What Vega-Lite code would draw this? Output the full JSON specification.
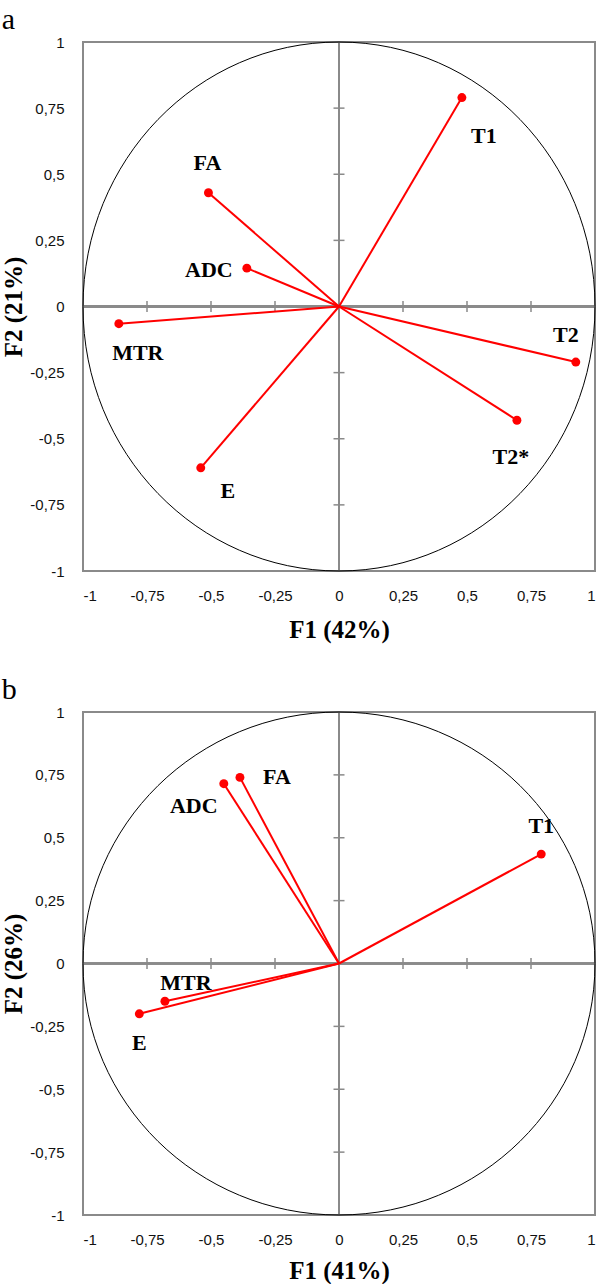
{
  "$schema": "https://vega.github.io/schema/vega-lite/v6.json",
  "padding": {"left": 0, "top": 4, "right": 5, "bottom": 0},
  "background": "white",
  "spacing": 31,
  "config": {
    "view": {"stroke": "#8a8a8a", "strokeWidth": 2},
    "axis": {"grid": false, "domain": false, "ticks": false, "labelFont": "Liberation Sans", "labelFontSize": 15, "labelColor": "#111", "titleFont": "Liberation Serif", "titleFontSize": 25, "titleFontWeight": "bold", "titleColor": "#000"},
    "title": {"font": "Liberation Serif", "fontSize": 30, "fontWeight": "normal", "anchor": "start", "frame": "bounds", "color": "#000"}
  },
  "vconcat": [
    {
      "title": {"text": "a", "offset": 0},
      "width": 512,
      "height": 529,
      "data": {"values": [
        {"var": "T1", "F1": 0.48, "F2": 0.79},
        {"var": "FA", "F1": -0.51, "F2": 0.43},
        {"var": "ADC", "F1": -0.36, "F2": 0.145},
        {"var": "MTR", "F1": -0.86, "F2": -0.065},
        {"var": "E", "F1": -0.54, "F2": -0.61},
        {"var": "T2", "F1": 0.925, "F2": -0.21},
        {"var": "T2*", "F1": 0.695, "F2": -0.43}
      ]},
      "encoding": {
        "x": {"type": "quantitative", "scale": {"domain": [-1, 1], "nice": false, "zero": false},
          "axis": {"title": "F1 (42%)", "values": [-1, -0.75, -0.5, -0.25, 0, 0.25, 0.5, 0.75, 1], "labelExpr": "replace(toString(datum.value), '.', ',')", "labelPadding": 17, "titlePadding": 14}},
        "y": {"type": "quantitative", "scale": {"domain": [-1, 1], "nice": false, "zero": false},
          "axis": {"title": "F2 (21%)", "values": [-1, -0.75, -0.5, -0.25, 0, 0.25, 0.5, 0.75, 1], "labelExpr": "replace(toString(datum.value), '.', ',')", "labelPadding": 19, "titlePadding": 3}}
      },
      "layer": [
        {"mark": {"type": "rule", "color": "#8a8a8a", "strokeWidth": 2}, "encoding": {"x": {"datum": 0}}},
        {"mark": {"type": "rule", "color": "#8a8a8a", "strokeWidth": 2}, "encoding": {"y": {"datum": 0}}},
        {"data": {"values": [{"t": -0.75}, {"t": -0.5}, {"t": -0.25}, {"t": 0.25}, {"t": 0.5}, {"t": 0.75}]},
          "mark": {"type": "tick", "orient": "vertical", "color": "#8a8a8a", "size": 11, "thickness": 1.5, "opacity": 1},
          "encoding": {"x": {"field": "t", "type": "quantitative"}, "y": {"datum": 0}}},
        {"data": {"values": [{"t": -0.75}, {"t": -0.5}, {"t": -0.25}, {"t": 0.25}, {"t": 0.5}, {"t": 0.75}]},
          "mark": {"type": "tick", "orient": "horizontal", "color": "#8a8a8a", "size": 11, "thickness": 1.5, "opacity": 1},
          "encoding": {"y": {"field": "t", "type": "quantitative"}, "x": {"datum": 0}}},
        {"data": {"values": [{"c": 0}]},
          "mark": {"type": "point", "filled": false, "color": "#000", "strokeWidth": 1, "opacity": 1, "size": 262144,
            "shape": "M1,0C1,0.5707 0.5523,1.0332 0,1.0332C-0.5523,1.0332 -1,0.5707 -1,0C-1,-0.5707 -0.5523,-1.0332 0,-1.0332C0.5523,-1.0332 1,-0.5707 1,0Z"},
          "encoding": {"x": {"datum": 0}, "y": {"datum": 0}}},
        {"mark": {"type": "rule", "color": "#ff0000", "strokeWidth": 2},
          "encoding": {"x": {"field": "F1"}, "y": {"field": "F2"}, "x2": {"datum": 0}, "y2": {"datum": 0}}},
        {"mark": {"type": "point", "filled": true, "color": "#ff0000", "size": 80, "opacity": 1},
          "encoding": {"x": {"field": "F1"}, "y": {"field": "F2"}}},
        {"transform": [{"filter": "datum.var === 'T1'"}], "mark": {"type": "text", "font": "Liberation Serif", "fontWeight": "bold", "fontSize": 22, "dx": 22, "dy": 38, "baseline": "middle"}, "encoding": {"x": {"field": "F1"}, "y": {"field": "F2"}, "text": {"field": "var"}}},
        {"transform": [{"filter": "datum.var === 'FA'"}], "mark": {"type": "text", "font": "Liberation Serif", "fontWeight": "bold", "fontSize": 22, "dx": -1, "dy": -30, "baseline": "middle"}, "encoding": {"x": {"field": "F1"}, "y": {"field": "F2"}, "text": {"field": "var"}}},
        {"transform": [{"filter": "datum.var === 'ADC'"}], "mark": {"type": "text", "font": "Liberation Serif", "fontWeight": "bold", "fontSize": 22, "dx": -38, "dy": 2, "baseline": "middle"}, "encoding": {"x": {"field": "F1"}, "y": {"field": "F2"}, "text": {"field": "var"}}},
        {"transform": [{"filter": "datum.var === 'MTR'"}], "mark": {"type": "text", "font": "Liberation Serif", "fontWeight": "bold", "fontSize": 22, "dx": 19, "dy": 29, "baseline": "middle"}, "encoding": {"x": {"field": "F1"}, "y": {"field": "F2"}, "text": {"field": "var"}}},
        {"transform": [{"filter": "datum.var === 'E'"}], "mark": {"type": "text", "font": "Liberation Serif", "fontWeight": "bold", "fontSize": 22, "dx": 27, "dy": 23, "baseline": "middle"}, "encoding": {"x": {"field": "F1"}, "y": {"field": "F2"}, "text": {"field": "var"}}},
        {"transform": [{"filter": "datum.var === 'T2'"}], "mark": {"type": "text", "font": "Liberation Serif", "fontWeight": "bold", "fontSize": 22, "dx": -10, "dy": -27, "baseline": "middle"}, "encoding": {"x": {"field": "F1"}, "y": {"field": "F2"}, "text": {"field": "var"}}},
        {"transform": [{"filter": "datum.var === 'T2*'"}], "mark": {"type": "text", "font": "Liberation Serif", "fontWeight": "bold", "fontSize": 22, "dx": -6, "dy": 37, "baseline": "middle"}, "encoding": {"x": {"field": "F1"}, "y": {"field": "F2"}, "text": {"field": "var"}}}
      ]
    },
    {
      "title": {"text": "b", "offset": 0},
      "width": 512,
      "height": 503,
      "data": {"values": [
        {"var": "T1", "F1": 0.79, "F2": 0.435},
        {"var": "FA", "F1": -0.387, "F2": 0.74},
        {"var": "ADC", "F1": -0.45, "F2": 0.715},
        {"var": "MTR", "F1": -0.68, "F2": -0.15},
        {"var": "E", "F1": -0.78, "F2": -0.2}
      ]},
      "encoding": {
        "x": {"type": "quantitative", "scale": {"domain": [-1, 1], "nice": false, "zero": false},
          "axis": {"title": "F1 (41%)", "values": [-1, -0.75, -0.5, -0.25, 0, 0.25, 0.5, 0.75, 1], "labelExpr": "replace(toString(datum.value), '.', ',')", "labelPadding": 17, "titlePadding": 11}},
        "y": {"type": "quantitative", "scale": {"domain": [-1, 1], "nice": false, "zero": false},
          "axis": {"title": "F2 (26%)", "values": [-1, -0.75, -0.5, -0.25, 0, 0.25, 0.5, 0.75, 1], "labelExpr": "replace(toString(datum.value), '.', ',')", "labelPadding": 19, "titlePadding": 3}}
      },
      "layer": [
        {"mark": {"type": "rule", "color": "#8a8a8a", "strokeWidth": 2}, "encoding": {"x": {"datum": 0}}},
        {"mark": {"type": "rule", "color": "#8a8a8a", "strokeWidth": 2}, "encoding": {"y": {"datum": 0}}},
        {"data": {"values": [{"t": -0.75}, {"t": -0.5}, {"t": -0.25}, {"t": 0.25}, {"t": 0.5}, {"t": 0.75}]},
          "mark": {"type": "tick", "orient": "vertical", "color": "#8a8a8a", "size": 11, "thickness": 1.5, "opacity": 1},
          "encoding": {"x": {"field": "t", "type": "quantitative"}, "y": {"datum": 0}}},
        {"data": {"values": [{"t": -0.75}, {"t": -0.5}, {"t": -0.25}, {"t": 0.25}, {"t": 0.5}, {"t": 0.75}]},
          "mark": {"type": "tick", "orient": "horizontal", "color": "#8a8a8a", "size": 11, "thickness": 1.5, "opacity": 1},
          "encoding": {"y": {"field": "t", "type": "quantitative"}, "x": {"datum": 0}}},
        {"data": {"values": [{"c": 0}]},
          "mark": {"type": "point", "filled": false, "color": "#000", "strokeWidth": 1, "opacity": 1, "size": 262144,
            "shape": "M1,0C1,0.5426 0.5523,0.9824 0,0.9824C-0.5523,0.9824 -1,0.5426 -1,0C-1,-0.5426 -0.5523,-0.9824 0,-0.9824C0.5523,-0.9824 1,-0.5426 1,0Z"},
          "encoding": {"x": {"datum": 0}, "y": {"datum": 0}}},
        {"mark": {"type": "rule", "color": "#ff0000", "strokeWidth": 2},
          "encoding": {"x": {"field": "F1"}, "y": {"field": "F2"}, "x2": {"datum": 0}, "y2": {"datum": 0}}},
        {"mark": {"type": "point", "filled": true, "color": "#ff0000", "size": 80, "opacity": 1},
          "encoding": {"x": {"field": "F1"}, "y": {"field": "F2"}}},
        {"transform": [{"filter": "datum.var === 'T1'"}], "mark": {"type": "text", "font": "Liberation Serif", "fontWeight": "bold", "fontSize": 22, "dx": 0, "dy": -28, "baseline": "middle"}, "encoding": {"x": {"field": "F1"}, "y": {"field": "F2"}, "text": {"field": "var"}}},
        {"transform": [{"filter": "datum.var === 'FA'"}], "mark": {"type": "text", "font": "Liberation Serif", "fontWeight": "bold", "fontSize": 22, "dx": 37, "dy": 0, "baseline": "middle"}, "encoding": {"x": {"field": "F1"}, "y": {"field": "F2"}, "text": {"field": "var"}}},
        {"transform": [{"filter": "datum.var === 'ADC'"}], "mark": {"type": "text", "font": "Liberation Serif", "fontWeight": "bold", "fontSize": 22, "dx": -30, "dy": 22, "baseline": "middle"}, "encoding": {"x": {"field": "F1"}, "y": {"field": "F2"}, "text": {"field": "var"}}},
        {"transform": [{"filter": "datum.var === 'MTR'"}], "mark": {"type": "text", "font": "Liberation Serif", "fontWeight": "bold", "fontSize": 22, "dx": 21, "dy": -18, "baseline": "middle"}, "encoding": {"x": {"field": "F1"}, "y": {"field": "F2"}, "text": {"field": "var"}}},
        {"transform": [{"filter": "datum.var === 'E'"}], "mark": {"type": "text", "font": "Liberation Serif", "fontWeight": "bold", "fontSize": 22, "dx": 0, "dy": 29, "baseline": "middle"}, "encoding": {"x": {"field": "F1"}, "y": {"field": "F2"}, "text": {"field": "var"}}}
      ]
    }
  ]
}
